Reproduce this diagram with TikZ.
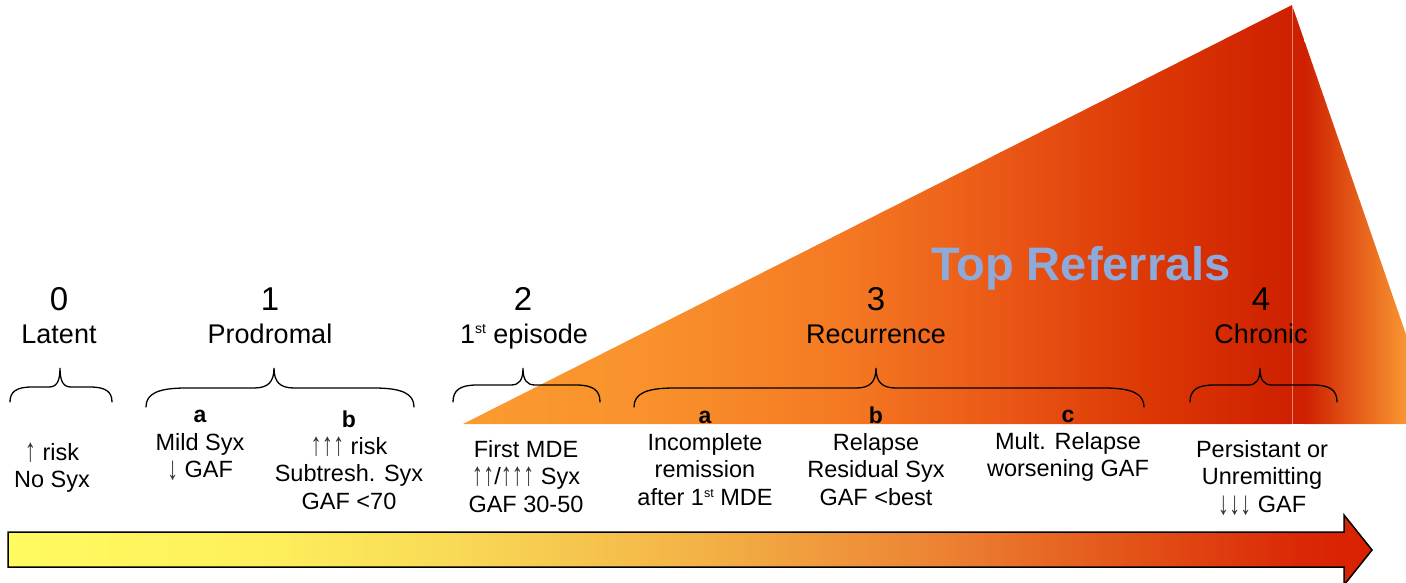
\documentclass[tikz,border=0pt]{standalone}
\usepackage{fontspec}
\setmainfont{Liberation Sans}
\definecolor{tA}{RGB}{251,155,48}
\definecolor{tB}{RGB}{249,145,44}
\definecolor{tC}{RGB}{244,120,34}
\definecolor{tD}{RGB}{234,88,22}
\definecolor{tE}{RGB}{220,55,5}
\definecolor{tF}{RGB}{206,32,0}
\definecolor{tG}{RGB}{250,152,50}
\definecolor{aA}{RGB}{255,251,96}
\definecolor{aB}{RGB}{254,240,92}
\definecolor{aC}{RGB}{249,218,86}
\definecolor{aD}{RGB}{243,178,70}
\definecolor{aE}{RGB}{236,128,50}
\definecolor{aF}{RGB}{226,78,22}
\definecolor{aG}{RGB}{218,40,6}
\definecolor{aH}{RGB}{216,32,0}
\definecolor{refblue}{RGB}{142,170,219}
\newcommand\stk[1]{\begin{tabular}[t]{@{}c@{}}#1\end{tabular}}
\newcommand\upa{\raisebox{-1pt}{\textcolor{black!80}{\scalebox{0.95}[1.4]{↑}}}}
\newcommand\dna{\raisebox{-2pt}{\textcolor{black!80}{\scalebox{0.95}[1.4]{↓}}}}
\newcommand\supbig[1]{\raisebox{10pt}{\fontsize{14}{14}\selectfont #1}}
\newcommand\supsmall[1]{\raisebox{8.5pt}{\fontsize{12.5}{12.5}\selectfont #1}}
\newcommand\stagebrace[7]{%
  \draw[bracestyle] (#1,#4) .. controls (#1,{#5+0.3*(#4-#5)}) and ({#1+0.3*#7},#5) .. ({#1+#7},#5)
    -- ({#3-0.5*#7},#5) .. controls ({#3-0.15*#7},#5) and (#3,{#5-0.3*(#5-#6)}) .. (#3,#6)
    .. controls (#3,{#5-0.3*(#5-#6)}) and ({#3+0.15*#7},#5) .. ({#3+0.5*#7},#5)
    -- ({#2-#7},#5) .. controls ({#2-0.3*#7},#5) and (#2,{#5+0.3*(#4-#5)}) .. (#2,#4);}
\tikzset{
  bracestyle/.style={line width=1.3pt, black, line cap=round},
  stagenum/.style={font=\fontsize{33}{36}\selectfont, anchor=base, inner sep=0pt},
  stagename/.style={font=\fontsize{27}{30}\selectfont, anchor=base, inner sep=0pt},
  sublabel/.style={font=\fontsize{23.5}{27.8}\selectfont, anchor=base, inner sep=0pt},
  letterlab/.style={font=\fontsize{23}{26}\selectfont\bfseries, anchor=base, inner sep=0pt},
  toplab/.style={font=\fontsize{47}{50}\selectfont\bfseries, text=refblue, anchor=base, inner sep=0pt}
}
\begin{document}
\begin{tikzpicture}[x=1pt,y=-1pt]
\useasboundingbox (0,0) rectangle (1406,583);
% big triangle
\begin{scope}
  \clip (463,424) -- (1292,5) -- (1292,424) -- cycle;
  \shade[left color=tA, right color=tB] (463,0) rectangle (650.5,424);
  \shade[left color=tB, right color=tC] (650,0) rectangle (850.5,424);
  \shade[left color=tC, right color=tD] (850,0) rectangle (1000.5,424);
  \shade[left color=tD, right color=tE] (1000,0) rectangle (1150.5,424);
  \shade[left color=tE, right color=tF] (1150,0) rectangle (1292,424);
\end{scope}
\begin{scope}
  \clip (1292,5) -- (1437,424) -- (1292,424) -- cycle;
  \fill[tF] (1292,0) rectangle (1305,424);
  \shade[left color=tF, right color=tG] (1304.5,0) rectangle (1408,424);
\end{scope}
\draw[white, opacity=0.45, line width=0.8pt] (1292,5) -- (1292,424);
% bottom arrow
\begin{scope}
  \clip (8,532) -- (1344,532) -- (1344,515) -- (1372,550) -- (1344,585) -- (1344,567) -- (8,567) -- cycle;
  \shade[left color=aA, right color=aB] (8,510) rectangle (250.5,590);
  \shade[left color=aB, right color=aC] (250,510) rectangle (450.5,590);
  \shade[left color=aC, right color=aD] (450,510) rectangle (700.5,590);
  \shade[left color=aD, right color=aE] (700,510) rectangle (950.5,590);
  \shade[left color=aE, right color=aF] (950,510) rectangle (1150.5,590);
  \shade[left color=aF, right color=aG] (1150,510) rectangle (1300.5,590);
  \shade[left color=aG, right color=aH] (1300,510) rectangle (1375,590);
\end{scope}
\draw[line width=1.5pt, line join=miter] (8,532) -- (1344,532) -- (1344,515) -- (1372,550) -- (1344,585) -- (1344,567) -- (8,567) -- cycle;
% braces
\stagebrace{10}{112}{60}{402}{387}{368}{22}
\stagebrace{146}{414}{274}{407}{388}{368}{40}
\stagebrace{453}{600}{523}{402}{385}{368}{24}
\stagebrace{634}{1144}{876}{407}{388}{368}{40}
\stagebrace{1190}{1337}{1260}{402}{385}{368}{24}
% top label
\node[toplab] (top) at (1081,280) {Top Referrals};
% stage numbers and names
\node[stagenum] (n0) at (59,310) {0};
\node[stagenum] (n1) at (270,310) {1};
\node[stagenum] (n2) at (523,310) {2};
\node[stagenum] (n3) at (876,310) {3};
\node[stagenum] (n4) at (1261,310) {4};
\node[stagename] (s0) at (59,343) {Latent};
\node[stagename] (s1) at (270,343) {Prodromal};
\node[stagename] (s2) at (524,343) {1\supbig{st} episode};
\node[stagename] (s3) at (876,343) {Recurrence};
\node[stagename] (s4) at (1261,343) {Chronic};
% sub letters
\node[letterlab] (l1a) at (200,422) {a};
\node[letterlab] (l1b) at (349,427) {b};
\node[letterlab] (l3a) at (705,423) {a};
\node[letterlab] (l3b) at (876,423) {b};
\node[letterlab] (l3c) at (1068,422) {c};
% sub labels
\node[sublabel] (d0) at (52,460) {\stk{\upa{} risk\\No Syx}};
\node[sublabel] (d1a) at (200,450) {\stk{Mild Syx\\\dna{} GAF}};
\node[sublabel] (d1b) at (349,454) {\stk{\upa\upa\upa{} risk\\Subtresh. Syx\\GAF <70}};
\node[sublabel] (d2) at (526,457) {\stk{First MDE\\\upa\upa/\upa\upa\upa{} Syx\\GAF 30-50}};
\node[sublabel] (d3a) at (705,450) {\stk{Incomplete\\remission\\after 1\supsmall{st} MDE}};
\node[sublabel] (d3b) at (876,450) {\stk{Relapse\\Residual Syx\\GAF <best}};
\node[sublabel] (d3c) at (1068,449) {\stk{Mult. Relapse\\worsening GAF}};
\node[sublabel] (d4) at (1262,457) {\stk{Persistant or\\Unremitting\\\dna\dna\dna{} GAF}};
\end{tikzpicture}
\end{document}
